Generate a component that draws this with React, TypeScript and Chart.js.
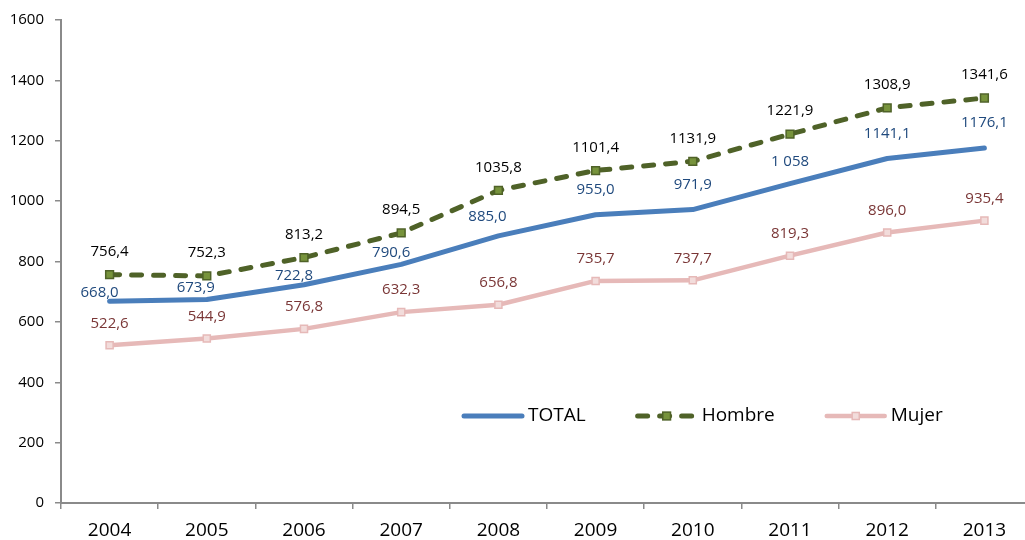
import React, { useEffect, useRef } from "react";
import { Chart, registerables } from "chart.js";

Chart.register(...registerables);

// ---------- data ----------
const years = ["2004", "2005", "2006", "2007", "2008", "2009", "2010", "2011", "2012", "2013"];
const totalValues = [668.0, 673.9, 722.8, 790.6, 885.0, 955.0, 971.9, 1058, 1141.1, 1176.1];
const hombreValues = [756.4, 752.3, 813.2, 894.5, 1035.8, 1101.4, 1131.9, 1221.9, 1308.9, 1341.6];
const mujerValues = [522.6, 544.9, 576.8, 632.3, 656.8, 735.7, 737.7, 819.3, 896.0, 935.4];
const totalLabels = ["668,0", "673,9", "722,8", "790,6", "885,0", "955,0", "971,9", "1 058", "1141,1", "1176,1"];
const hombreLabels = ["756,4", "752,3", "813,2", "894,5", "1035,8", "1101,4", "1131,9", "1221,9", "1308,9", "1341,6"];
const mujerLabels = ["522,6", "544,9", "576,8", "632,3", "656,8", "735,7", "737,7", "819,3", "896,0", "935,4"];
const yMin = 0;
const yMax = 1600;
const yStep = 200;

// ---------- label placement (style, not data) ----------
const totalLabelRise = [9, 12, 9, 12, 19, 25, 25, 22, 25, 25];
const totalLabelShift = [-10, -11, -10, -10, -11, 0, 0, 0, 0, 0];

const FONT = "'Open Sans', 'DejaVu Sans', sans-serif";

const valueLabelPlugin = {
  id: "valueLabels",
  afterDatasetsDraw(chart: any) {
    const ctx = chart.ctx;
    ctx.save();
    ctx.font = `15px ${FONT}`;
    ctx.textAlign = "center";
    ctx.textBaseline = "middle";
    chart.data.datasets.forEach((ds: any, di: number) => {
      const meta = chart.getDatasetMeta(di);
      meta.data.forEach((pt: any, i: number) => {
        const rise = Array.isArray(ds.labelRise) ? ds.labelRise[i] : ds.labelRise;
        const shift = Array.isArray(ds.labelShift) ? ds.labelShift[i] : ds.labelShift || 0;
        ctx.fillStyle = ds.labelColor;
        ctx.fillText(ds.valueLabels[i], pt.x + shift, pt.y - rise);
      });
    });
    ctx.restore();
  },
};

const legendPlugin = {
  id: "customLegend",
  afterDraw(chart: any) {
    const ctx = chart.ctx;
    ctx.save();
    ctx.font = `19px ${FONT}`;
    ctx.textBaseline = "middle";
    ctx.textAlign = "left";
    let x = 464;
    const y = 416;
    const lineLen = 58;
    chart.data.datasets.forEach((ds: any) => {
      ctx.beginPath();
      ctx.strokeStyle = ds.borderColor;
      ctx.lineWidth = ds.borderWidth;
      ctx.lineCap = "round";
      ctx.setLineDash(ds.borderDash || []);
      ctx.moveTo(x, y);
      ctx.lineTo(x + lineLen, y);
      ctx.stroke();
      ctx.setLineDash([]);
      if (ds.pointRadius > 0) {
        const s = ds.pointRadius * Math.SQRT1_2;
        ctx.fillStyle = ds.pointBackgroundColor;
        ctx.strokeStyle = ds.pointBorderColor;
        ctx.lineWidth = ds.pointBorderWidth;
        ctx.fillRect(x + lineLen / 2 - s, y - s, 2 * s, 2 * s);
        ctx.strokeRect(x + lineLen / 2 - s, y - s, 2 * s, 2 * s);
      }
      ctx.fillStyle = "#000000";
      const tx = x + lineLen + 6;
      ctx.fillText(ds.label, tx, y);
      x = tx + ctx.measureText(ds.label).width + 52;
    });
    ctx.restore();
  },
};

export default function App() {
  const canvasRef = useRef<HTMLCanvasElement | null>(null);

  useEffect(() => {
    if (!canvasRef.current) return;
    const axisColor = "#8a8a8a";
    const chart = new Chart(canvasRef.current, {
      type: "line",
      data: {
        labels: years,
        datasets: [
          {
            label: "TOTAL",
            data: totalValues,
            borderColor: "#4A7EBB",
            backgroundColor: "#4A7EBB",
            borderWidth: 5,
            pointRadius: 0,
            borderCapStyle: "round",
            borderJoinStyle: "round",
            tension: 0,
            valueLabels: totalLabels,
            labelColor: "#1F497D",
            labelRise: totalLabelRise,
            labelShift: totalLabelShift,
          } as any,
          {
            label: "Hombre",
            data: hombreValues,
            borderColor: "#4F6228",
            backgroundColor: "#77933C",
            borderWidth: 5,
            borderDash: [10, 12],
            borderCapStyle: "round",
            borderJoinStyle: "round",
            pointStyle: "rect",
            pointRadius: 5.5,
            pointBackgroundColor: "#77933C",
            pointBorderColor: "#4F6228",
            pointBorderWidth: 1.5,
            tension: 0,
            valueLabels: hombreLabels,
            labelColor: "#000000",
            labelRise: 23,
          } as any,
          {
            label: "Mujer",
            data: mujerValues,
            borderColor: "#E6B9B8",
            backgroundColor: "#F2DCDB",
            borderWidth: 4.5,
            borderCapStyle: "round",
            borderJoinStyle: "round",
            pointStyle: "rect",
            pointRadius: 5,
            pointBackgroundColor: "#F2DCDB",
            pointBorderColor: "#E6B9B8",
            pointBorderWidth: 1.5,
            tension: 0,
            valueLabels: mujerLabels,
            labelColor: "#7A3636",
            labelRise: 22,
          } as any,
        ],
      },
      options: {
        responsive: false,
        animation: false,
        devicePixelRatio: 1,
        layout: { padding: { top: 17, right: 5.7, left: 0, bottom: 0 } },
        plugins: {
          legend: { display: false },
          tooltip: { enabled: false },
        },
        scales: {
          x: {
            type: "category",
            offset: true,
            grid: {
              offset: true,
              drawOnChartArea: false,
              drawTicks: true,
              tickLength: 6,
              color: axisColor,
              lineWidth: 1.5,
            },
            border: { color: axisColor, width: 2 },
            ticks: {
              color: "#000000",
              font: { family: FONT, size: 19 },
              padding: 10,
              maxRotation: 0,
              autoSkip: false,
            },
            afterFit: (s: any) => {
              s.height = 37;
            },
          },
          y: {
            min: yMin,
            max: yMax,
            grid: {
              drawOnChartArea: false,
              drawTicks: true,
              tickLength: 6,
              color: axisColor,
              lineWidth: 1.5,
            },
            border: { color: axisColor, width: 2 },
            ticks: {
              stepSize: yStep,
              color: "#000000",
              font: { family: FONT, size: 15 },
              padding: 11,
              callback: (v: any) => String(v),
            },
            afterFit: (s: any) => {
              s.width = 61;
            },
          },
        },
      },
      plugins: [valueLabelPlugin, legendPlugin],
    });
    return () => chart.destroy();
  }, []);

  return (
    <div
      style={{
        position: "fixed",
        left: 0,
        top: 0,
        width: 1025,
        height: 540,
        overflow: "hidden",
        background: "#ffffff",
      }}
    >
      <canvas
        ref={canvasRef}
        width={1040}
        height={540}
        style={{ display: "block", width: 1040, height: 540 }}
      />
    </div>
  );
}
